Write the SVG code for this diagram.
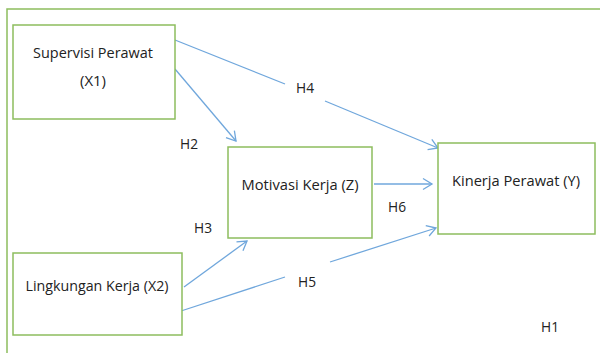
<svg xmlns="http://www.w3.org/2000/svg" width="600" height="353" viewBox="0 0 600 353">
<style>
.box{fill:#fff;stroke:#8dbd5e;stroke-width:1.5}
.frame{fill:none;stroke:#8dbd5e;stroke-width:1.5}
.lbl{font-family:"Open Sans","Liberation Sans",sans-serif;font-size:15px;fill:#222}
.edge{fill:none;stroke:#70a7dc;stroke-width:1.3}
</style>
<defs>
<marker id="arr" markerUnits="userSpaceOnUse" markerWidth="14" markerHeight="14" viewBox="0 0 14 14" refX="12" refY="7" orient="auto">
<path d="M3,1.5 L12,7 L3,12.5" fill="none" stroke="#70a7dc" stroke-width="1.3"/>
</marker>
</defs>
<rect width="600" height="353" fill="#fff"/>
<rect class="frame" x="7" y="9" width="700" height="400"/>
<g id="connectors">
<path class="edge" d="M175,40 L285,84"/>
<path class="edge" d="M325,101 L438,148" marker-end="url(#arr)"/>
<path class="edge" d="M175,69 L236,141" marker-end="url(#arr)"/>
<path class="edge" d="M184,287 L247,241" marker-end="url(#arr)"/>
<path class="edge" d="M181,311 L285,277"/>
<path class="edge" d="M330,262 L436,228" marker-end="url(#arr)"/>
<path class="edge" d="M374,184 L432,184" marker-end="url(#arr)"/>
</g>
<g id="x1">
<rect class="box" x="13" y="25" width="162" height="94"/>
<text class="lbl" x="93" y="58" text-anchor="middle" textLength="120" lengthAdjust="spacingAndGlyphs">Supervisi Perawat</text>
<text class="lbl" x="93" y="86" text-anchor="middle" textLength="26" lengthAdjust="spacingAndGlyphs">(X1)</text>
</g>
<g id="z">
<rect class="box" x="228" y="147" width="144" height="91"/>
<text class="lbl" x="300" y="190" text-anchor="middle" textLength="117" lengthAdjust="spacingAndGlyphs">Motivasi Kerja (Z)</text>
</g>
<g id="y">
<rect class="box" x="438" y="143" width="157" height="91"/>
<text class="lbl" x="516" y="186" text-anchor="middle" textLength="128" lengthAdjust="spacingAndGlyphs">Kinerja Perawat (Y)</text>
</g>
<g id="x2">
<rect class="box" x="13" y="253" width="169" height="82"/>
<text class="lbl" x="97" y="291" text-anchor="middle" textLength="143" lengthAdjust="spacingAndGlyphs">Lingkungan Kerja (X2)</text>
</g>
<g id="labels">
<text class="lbl" x="296" y="93" textLength="18" lengthAdjust="spacingAndGlyphs">H4</text>
<text class="lbl" x="180" y="149" textLength="18" lengthAdjust="spacingAndGlyphs">H2</text>
<text class="lbl" x="194" y="233" textLength="18" lengthAdjust="spacingAndGlyphs">H3</text>
<text class="lbl" x="298" y="287" textLength="18" lengthAdjust="spacingAndGlyphs">H5</text>
<text class="lbl" x="388" y="212" textLength="18" lengthAdjust="spacingAndGlyphs">H6</text>
<text class="lbl" x="541" y="332" textLength="18" lengthAdjust="spacingAndGlyphs">H1</text>
</g>
</svg>
